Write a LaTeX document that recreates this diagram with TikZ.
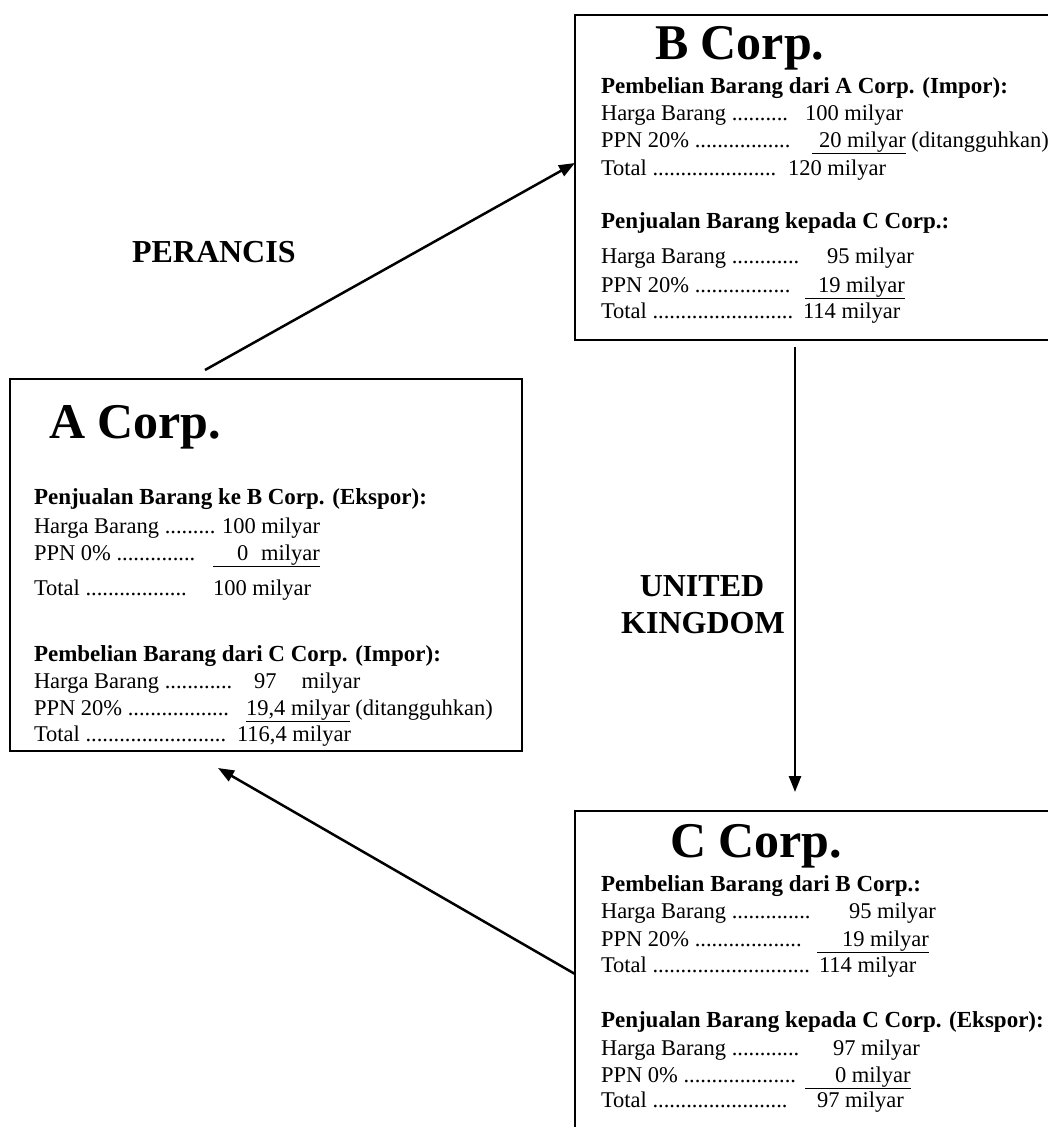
\documentclass[tikz,border=0pt]{standalone}
\usepackage{fontspec}
\setmainfont{Liberation Serif}
\usetikzlibrary{arrows.meta,calc}
\newcommand{\mybodyfont}{\fontsize{22.5}{27}\selectfont}
\newcommand{\myheadfont}{\fontsize{23}{28}\selectfont\bfseries}
\newcommand{\mytitlefont}{\fontsize{50}{56}\selectfont\bfseries}
\newcommand{\mylabfont}{\fontsize{32}{37}\selectfont\bfseries}
\tikzset{
  txt/.style={anchor=base west, inner sep=0pt, outer sep=0pt, font=\mybodyfont},
  hd/.style={txt, font=\myheadfont},
  ttl/.style={txt, font=\mytitlefont},
  lab/.style={anchor=base, inner sep=0pt, outer sep=0pt, font=\mylabfont},
  corp/.style={draw, line width=2pt, rectangle, inner sep=0pt, outer sep=0pt},
  conn/.style={line width=2.5pt, -{Triangle[length=16pt,width=12pt]}}
}
\begin{document}
\begin{tikzpicture}[x=1pt,y=-1pt]
\useasboundingbox (0,0) rectangle (1048,1127);
\fill[white] (0,0) rectangle (1048,1127);

% boxes
\node[corp, minimum width=512pt, minimum height=372pt] (A) at (266,565) {};
\node[corp, minimum width=477pt, minimum height=325pt] (B) at (813.5,177.5) {};
\node[corp, minimum width=477pt, minimum height=329pt] (C) at (813.5,975.5) {};

% A Corp.
\node[ttl] (At) at (49,438) {A Corp.};
\node[hd] (Ah1) at (34,504) {Penjualan Barang ke B Corp. (Ekspor):};
\node[txt] (Al1) at (34,533) {Harga Barang .........};
\node[txt] (Av1) at (222,533) {100 milyar};
\node[txt] (Al2) at (34,560) {PPN 0\% ..............};
\node[txt] (Av2) at (213,560) {\underline{\hspace{24pt}0\hspace{13pt}milyar}};
\node[txt] (Al3) at (34,595) {Total ..................};
\node[txt] (Av3) at (213,595) {100 milyar};
\node[hd] (Ah2) at (34,661) {Pembelian Barang dari C Corp. (Impor):};
\node[txt] (Al4) at (34,688) {Harga Barang ............};
\node[txt] (Av4) at (254,688) {97\hspace{25pt}milyar};
\node[txt] (Al5) at (34,715) {PPN 20\% ..................};
\node[txt] (Av5) at (246,715) {\underline{19,4 milyar} (ditangguhkan)};
\node[txt] (Al6) at (34,741) {Total .........................};
\node[txt] (Av6) at (237,741) {116,4 milyar};

% B Corp.
\node[ttl] (Bt) at (655,59) {B Corp.};
\node[hd] (Bh1) at (601,93) {Pembelian Barang dari A Corp. (Impor):};
\node[txt] (Bl1) at (601,120) {Harga Barang ..........};
\node[txt] (Bv1) at (805,120) {100 milyar};
\node[txt] (Bl2) at (601,147) {PPN 20\% .................};
\node[txt] (Bv2) at (812,147) {\underline{\hspace{7pt}20 milyar} (ditangguhkan)};
\node[txt] (Bl3) at (601,175) {Total ......................};
\node[txt] (Bv3) at (788,175) {120 milyar};
\node[hd] (Bh2) at (601,228) {Penjualan Barang kepada C Corp.:};
\node[txt] (Bl4) at (601,263) {Harga Barang ............};
\node[txt] (Bv4) at (827,263) {95 milyar};
\node[txt] (Bl5) at (601,292) {PPN 20\% .................};
\node[txt] (Bv5) at (805,292) {\underline{\hspace{13pt}19 milyar}};
\node[txt] (Bl6) at (601,318) {Total .........................};
\node[txt] (Bv6) at (803,318) {114 milyar};

% C Corp.
\node[ttl] (Ct) at (670,857) {C Corp.};
\node[hd] (Ch1) at (601,891) {Pembelian Barang dari B Corp.:};
\node[txt] (Cl1) at (601,918) {Harga Barang ..............};
\node[txt] (Cv1) at (849,918) {95 milyar};
\node[txt] (Cl2) at (601,946) {PPN 20\% ...................};
\node[txt] (Cv2) at (817,946) {\underline{\hspace{25pt}19 milyar}};
\node[txt] (Cl3) at (601,972) {Total ............................};
\node[txt] (Cv3) at (819,972) {114 milyar};
\node[hd] (Ch2) at (601,1027) {Penjualan Barang kepada C Corp. (Ekspor):};
\node[txt] (Cl4) at (601,1055) {Harga Barang ............};
\node[txt] (Cv4) at (833,1055) {97 milyar};
\node[txt] (Cl5) at (601,1082) {PPN 0\% ....................};
\node[txt] (Cv5) at (805,1082) {\underline{\hspace{30pt}0 milyar}};
\node[txt] (Cl6) at (601,1107) {Total ........................};
\node[txt] (Cv6) at (817,1107) {97 milyar};

% country labels
\node[lab, anchor=base west] (Lp) at (132,262) {PERANCIS};
\node[lab] (Lu1) at (702,596) {UNITED};
\node[lab] (Lu2) at (703,633) {KINGDOM};

% connectors
\draw[conn] ($(A.north west)+(195,-9)$) -- ($(B.north west)+(0,148)$);
\draw[conn] ($(B.south west)+(220,7)$) -- ($(C.north west)+(220,-19)$);
\draw[conn] ($(C.north west)+(0,163)$) -- ($(A.south west)+(208,17)$);
\end{tikzpicture}
\end{document}
